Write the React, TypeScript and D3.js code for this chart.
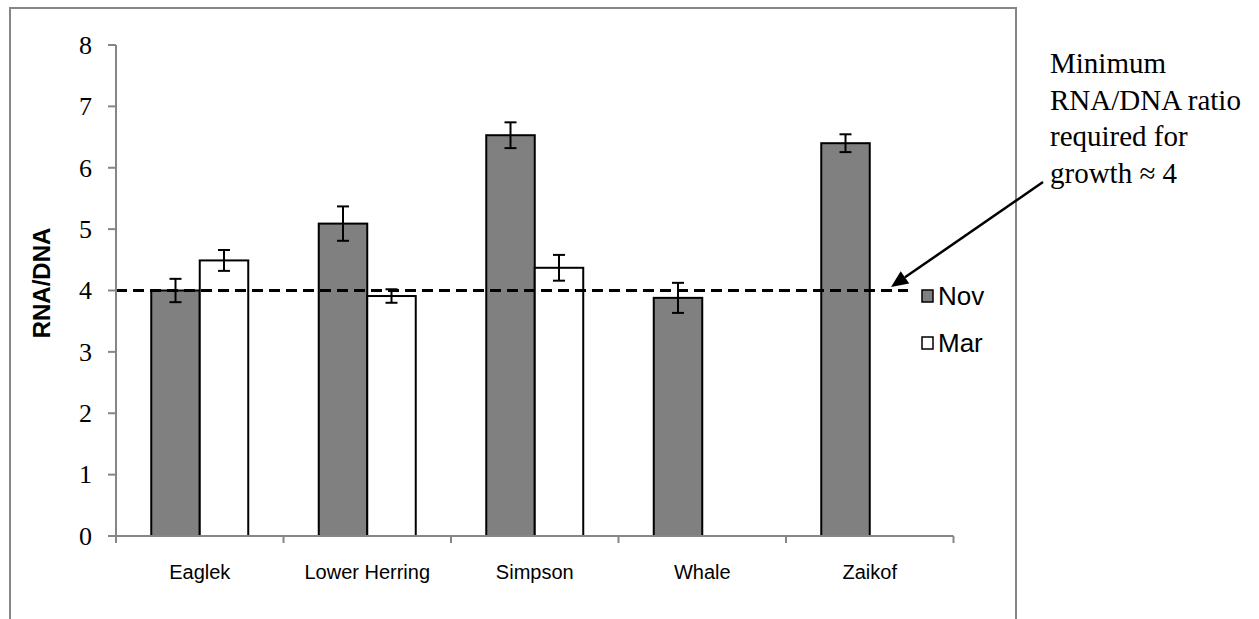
import React from "react";
import * as d3 from "d3";

const categories = ["Eaglek", "Lower Herring", "Simpson", "Whale", "Zaikof"];
const seriesNames = ["Nov", "Mar"];
const novValues = [4.0, 5.09, 6.53, 3.88, 6.4];
const novErrors = [0.19, 0.28, 0.21, 0.245, 0.145];
const marValues: (number | null)[] = [4.49, 3.91, 4.37, null, null];
const marErrors: (number | null)[] = [0.17, 0.11, 0.21, null, null];
const yTicks = [0, 1, 2, 3, 4, 5, 6, 7, 8];
const threshold = 4;
const annotationLines = ["Minimum", "RNA/DNA ratio", "required for", "growth \u2248 4"];

const W = 1259;
const H = 619;

export default function App() {
  const x0 = d3.scaleBand<string>().domain(categories).range([116, 953.5]).paddingInner(0).paddingOuter(0);
  const x1 = d3.scaleBand<string>().domain(seriesNames).range([0, x0.bandwidth()]).paddingInner(0).paddingOuter(0.727);
  const y = d3.scaleLinear().domain([0, 8]).range([536, 45]);

  const fills: Record<string, string> = { Nov: "#808080", Mar: "#ffffff" };
  const series = [
    { name: "Nov", values: novValues as (number | null)[], errors: novErrors as (number | null)[] },
    { name: "Mar", values: marValues, errors: marErrors },
  ];

  const axisColor = "#868686";
  const serif = "'Liberation Serif', 'Times New Roman', serif";
  const sans = "'Liberation Sans', Arial, sans-serif";

  // arrow geometry
  const ax0 = 1043, ay0 = 182, ax1 = 891, ay1 = 287;
  const ang = Math.atan2(ay1 - ay0, ax1 - ax0);
  const headLen = 17, headHalf = 7.5;
  const bx = ax1 - headLen * Math.cos(ang), by = ay1 - headLen * Math.sin(ang);
  const px = -Math.sin(ang) * headHalf, py = Math.cos(ang) * headHalf;

  return (
    <svg width={W} height={H} style={{ position: "absolute", left: 0, top: 0, background: "#fff" }}>
      <rect x={0} y={0} width={W} height={H} fill="#fff" />
      {/* outer frame */}
      <rect x={10} y={8} width={1006} height={660} fill="none" stroke={axisColor} strokeWidth={2} />

      {/* bars */}
      {series.map((s) =>
        categories.map((c, i) => {
          const v = s.values[i];
          if (v == null) return null;
          const bx0 = (x0(c) ?? 0) + (x1(s.name) ?? 0);
          return (
            <rect key={s.name + c} x={bx0} y={y(v)} width={x1.bandwidth()} height={y(0) - y(v)}
              fill={fills[s.name]} stroke="#000" strokeWidth={2} />
          );
        })
      )}

      {/* threshold dashed line */}
      <line x1={116} x2={908} y1={y(threshold)} y2={y(threshold)} stroke="#000" strokeWidth={3} strokeDasharray="11 6" />

      {/* error bars */}
      {series.map((s) =>
        categories.map((c, i) => {
          const v = s.values[i];
          const e = s.errors[i];
          if (v == null || e == null) return null;
          const cx = (x0(c) ?? 0) + (x1(s.name) ?? 0) + x1.bandwidth() / 2;
          return (
            <g key={"e" + s.name + c} stroke="#000" strokeWidth={2}>
              <line x1={cx} x2={cx} y1={y(v + e)} y2={y(v - e)} />
              <line x1={cx - 6} x2={cx + 6} y1={y(v + e)} y2={y(v + e)} />
              <line x1={cx - 6} x2={cx + 6} y1={y(v - e)} y2={y(v - e)} />
            </g>
          );
        })
      )}

      {/* y axis */}
      <line x1={116} x2={116} y1={y(8)} y2={y(0)} stroke={axisColor} strokeWidth={2} />
      {yTicks.map((t) => (
        <g key={"yt" + t}>
          <line x1={108} x2={116} y1={y(t)} y2={y(t)} stroke={axisColor} strokeWidth={2} />
          <text x={92} y={y(t)} dy="0.34em" textAnchor="end" fontFamily={serif} fontSize={26} fill="#000">{t}</text>
        </g>
      ))}
      <text transform={`translate(50,${283}) rotate(-90)`} textAnchor="middle" fontFamily={sans} fontWeight="bold" fontSize={24} fill="#000">RNA/DNA</text>

      {/* x axis */}
      <line x1={115} x2={953.5} y1={y(0)} y2={y(0)} stroke={axisColor} strokeWidth={2} />
      {[...categories.map((c) => x0(c) ?? 0), 953.5].map((tx, i) => (
        <line key={"xt" + i} x1={tx} x2={tx} y1={y(0)} y2={y(0) + 7} stroke={axisColor} strokeWidth={2} />
      ))}
      {categories.map((c) => (
        <text key={"xl" + c} x={(x0(c) ?? 0) + x0.bandwidth() / 2} y={579} textAnchor="middle" fontFamily={sans} fontSize={20} fill="#000">{c}</text>
      ))}

      {/* legend */}
      {seriesNames.map((n, i) => (
        <g key={"lg" + n}>
          <rect x={922} y={290 + i * 47} width={11} height={12} fill={fills[n]} stroke="#000" strokeWidth={1.5} />
          <text x={938} y={304.5 + i * 47} fontFamily={sans} fontSize={26} fill="#000">{n}</text>
        </g>
      ))}

      {/* annotation */}
      {annotationLines.map((l, i) => (
        <text key={"an" + i} x={1050} y={73 + i * 36.7} fontFamily={serif} fontSize={29} fill="#000">{l}</text>
      ))}
      <line x1={ax0} y1={ay0} x2={bx} y2={by} stroke="#000" strokeWidth={2.5} />
      <polygon points={`${ax1},${ay1} ${bx + px},${by + py} ${bx - px},${by - py}`} fill="#000" />
    </svg>
  );
}
